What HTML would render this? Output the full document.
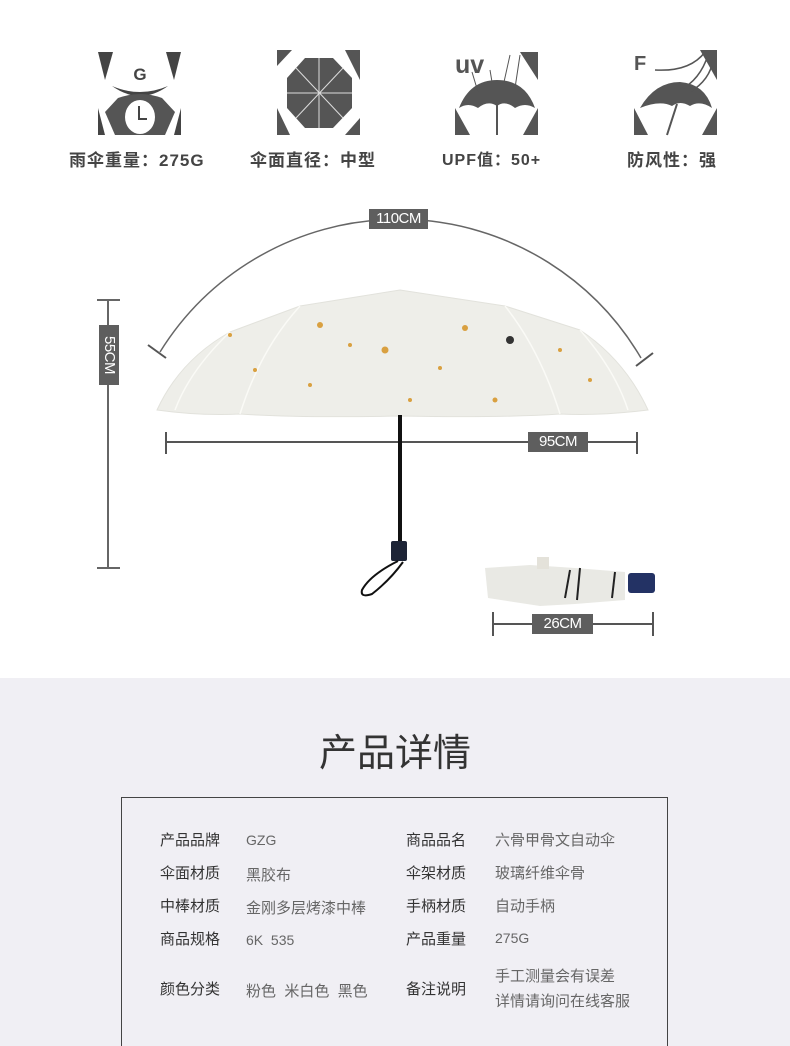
<!DOCTYPE html>
<html><head><meta charset="utf-8"><style>
html,body{margin:0;width:790px;height:1046px;overflow:hidden}
body{position:relative;background:#fff;font-family:"Liberation Sans","Noto Sans CJK SC",sans-serif}
.a{position:absolute}
.lbl{position:absolute;top:146px;font-size:17px;font-weight:bold;color:#444;white-space:nowrap;letter-spacing:1px}
.box{position:absolute;background:#5e5e5e;color:#fff;font-size:15px;text-align:center;line-height:20px;letter-spacing:-0.5px}
.k{position:absolute;font-size:15px;color:#333;white-space:nowrap}
.v{position:absolute;font-size:15px;color:#666;white-space:nowrap}
</style></head><body>
<svg class="a" style="left:0;top:0" width="790" height="678">
 <g fill="#444">
  <polygon points="98,52 113,52 105,80"/><polygon points="166,52 181,52 174,80"/>
  <polygon points="98,108 105,135 98,135"/><polygon points="181,108 174,135 181,135"/>
  <path d="M112,86 Q140,106 168,86 Q140,98 112,86Z"/>
  <path d="M105,112 L118,98 Q140,90 162,98 L175,112 L165,135 L115,135Z" fill="#555"/>
  <ellipse cx="140" cy="117" rx="15" ry="17" fill="#fff"/>
  <path d="M139,106 L139,119 L147,119" stroke="#444" stroke-width="2" fill="none"/>
  <text x="140" y="80" font-size="17" font-weight="bold" text-anchor="middle" font-family="Liberation Sans">G</text>
 </g>
 <g fill="#555">
  <polygon points="277,50 292,50 277,66"/><polygon points="345,50 360,50 360,80"/>
  <polygon points="277,108 290,135 277,135"/><polygon points="360,118 360,135 345,135"/>
  <polygon points="305,58 333,58 352,78 352,108 333,128 305,128 287,108 287,78"/>
  <g stroke="#ddd" stroke-width="1"><line x1="319" y1="58" x2="319" y2="128"/><line x1="287" y1="93" x2="352" y2="93"/><line x1="296" y1="68" x2="343" y2="118"/><line x1="343" y1="68" x2="296" y2="118"/></g>
 </g>
 <g fill="#555">
  <polygon points="520,52 538,52 538,80"/><polygon points="455,108 470,135 455,135"/><polygon points="538,108 538,135 523,135"/>
  <path d="M459,108 Q470,80 497,80 Q525,80 535,108 Q525,102 515,108 Q505,100 497,106 Q488,100 478,108 Q468,102 459,108Z"/>
  <line x1="497" y1="104" x2="497" y2="135" stroke="#555" stroke-width="2"/>
  <g stroke="#555" stroke-width="1"><line x1="478" y1="92" x2="472" y2="72"/><line x1="492" y1="82" x2="490" y2="70"/><line x1="504" y1="82" x2="510" y2="55"/><line x1="515" y1="88" x2="520" y2="55"/></g>
  <text x="455" y="73" font-size="25" font-weight="bold" font-family="Liberation Sans">uv</text>
 </g>
 <g fill="#555">
  <polygon points="700,50 717,50 717,80"/><polygon points="634,108 648,135 634,135"/><polygon points="717,108 717,135 702,135"/>
  <path d="M640,108 Q655,82 680,82 Q705,84 712,108 Q700,100 690,106 Q680,100 672,106 Q660,100 640,108Z"/>
  <line x1="677" y1="104" x2="667" y2="135" stroke="#555" stroke-width="2"/>
  <g stroke="#555" stroke-width="1.5" fill="none"><path d="M655,70 Q690,72 705,52"/><path d="M680,90 Q700,80 708,55"/><path d="M690,92 Q710,80 713,60"/></g>
  <text x="634" y="70" font-size="20" font-weight="bold" font-family="Liberation Sans">F</text>
 </g>
 <path d="M160,352 A281,281 0 0 1 641,358" stroke="#666" stroke-width="1.5" fill="none"/>
 <line x1="148" y1="345" x2="166" y2="358" stroke="#555" stroke-width="2"/>
 <line x1="653" y1="353" x2="636" y2="366" stroke="#555" stroke-width="2"/>
 <line x1="108" y1="300" x2="108" y2="568" stroke="#666" stroke-width="2"/>
 <line x1="97" y1="300" x2="120" y2="300" stroke="#666" stroke-width="2"/>
 <line x1="97" y1="568" x2="120" y2="568" stroke="#666" stroke-width="2"/>
 <line x1="166" y1="442" x2="637" y2="442" stroke="#555" stroke-width="2"/>
 <line x1="166" y1="432" x2="166" y2="454" stroke="#555" stroke-width="2"/>
 <line x1="637" y1="432" x2="637" y2="454" stroke="#555" stroke-width="2"/>
 <line x1="493" y1="624" x2="653" y2="624" stroke="#555" stroke-width="2"/>
 <line x1="493" y1="612" x2="493" y2="636" stroke="#555" stroke-width="2"/>
 <line x1="653" y1="612" x2="653" y2="636" stroke="#555" stroke-width="2"/>
 <path d="M157,410 Q180,360 230,332 L300,306 L400,290 L505,306 L580,330 Q625,360 648,410 Q600,416 560,414 Q500,418 400,416 Q300,418 240,414 Q200,416 157,410Z" fill="#eeeee9" stroke="#e2e2dc"/>
 <g stroke="#fafaf6" stroke-width="1.5" fill="none"><path d="M300,306 Q260,350 240,414"/><path d="M505,306 Q540,350 560,414"/><path d="M230,332 Q190,370 175,410"/><path d="M580,330 Q615,370 628,410"/></g>
 <g fill="#d9a040"><circle cx="320" cy="325" r="3"/><circle cx="385" cy="350" r="3.5"/><circle cx="465" cy="328" r="3"/><circle cx="350" cy="345" r="2"/><circle cx="230" cy="335" r="2"/><circle cx="560" cy="350" r="2"/><circle cx="410" cy="400" r="2"/><circle cx="495" cy="400" r="2.5"/><circle cx="255" cy="370" r="2"/><circle cx="590" cy="380" r="2"/><circle cx="310" cy="385" r="2"/><circle cx="440" cy="368" r="2"/></g>
 <circle cx="510" cy="340" r="4" fill="#333"/>
 <rect x="398" y="415" width="4" height="127" fill="#111"/>
 <rect x="391" y="541" width="16" height="20" rx="2" fill="#1d2436"/>
 <path d="M398,561 Q370,575 362,590 Q360,598 372,594 Q390,580 403,562" stroke="#111" stroke-width="2" fill="none"/>
 <path d="M485,568 L530,565 L575,568 L625,572 L625,600 L575,604 L540,606 L488,598Z" fill="#e9e9e4"/>
 <rect x="537" y="557" width="12" height="12" fill="#e4e2da"/>
 <g stroke="#222" stroke-width="2"><line x1="570" y1="570" x2="565" y2="598"/><line x1="580" y1="568" x2="577" y2="600"/><line x1="615" y1="572" x2="612" y2="598"/></g>
 <rect x="628" y="573" width="27" height="20" rx="3" fill="#233264"/>
</svg>
<div class="lbl" style="left:69px">雨伞重量：275G</div>
<div class="lbl" style="left:250px">伞面直径：中型</div>
<div class="lbl" style="left:442px;font-size:16px">UPF值：50+</div>
<div class="lbl" style="left:627px">防风性：强</div>
<div class="box" style="left:369px;top:209px;width:59px">110CM</div>
<div class="box" style="left:528px;top:432px;width:60px">95CM</div>
<div class="box" style="left:532px;top:614px;width:61px">26CM</div>
<div class="box" style="left:79px;top:345px;width:60px;transform:rotate(90deg)">55CM</div>
<div class="a" style="left:0;top:678px;width:790px;height:368px;background:#f0eff4"></div>
<div class="a" style="left:0;top:722px;width:790px;text-align:center;font-size:38px;color:#333">产品详情</div>
<div class="a" style="left:121px;top:797px;width:547px;height:249px;border:1.5px solid #444;border-bottom:none;box-sizing:border-box"></div>
<div class="k" style="left:160px;top:829px">产品品牌</div><div class="v" style="left:246px;top:832px;font-size:14px">GZG</div>
<div class="k" style="left:406px;top:829px">商品品名</div><div class="v" style="left:495px;top:829px">六骨甲骨文自动伞</div>
<div class="k" style="left:160px;top:862px">伞面材质</div><div class="v" style="left:246px;top:864px">黑胶布</div>
<div class="k" style="left:406px;top:862px">伞架材质</div><div class="v" style="left:495px;top:862px">玻璃纤维伞骨</div>
<div class="k" style="left:160px;top:895px">中棒材质</div><div class="v" style="left:246px;top:897px">金刚多层烤漆中棒</div>
<div class="k" style="left:406px;top:895px">手柄材质</div><div class="v" style="left:495px;top:895px">自动手柄</div>
<div class="k" style="left:160px;top:928px">商品规格</div><div class="v" style="left:246px;top:932px;font-size:14px">6K&nbsp;&nbsp;535</div>
<div class="k" style="left:406px;top:928px">产品重量</div><div class="v" style="left:495px;top:930px;font-size:14px">275G</div>
<div class="k" style="left:160px;top:978px">颜色分类</div><div class="v" style="left:246px;top:980px">粉色&nbsp;&nbsp;米白色&nbsp;&nbsp;黑色</div>
<div class="k" style="left:406px;top:978px">备注说明</div>
<div class="v" style="left:495px;top:964px;line-height:25px">手工测量会有误差<br>详情请询问在线客服</div>
</body></html>
